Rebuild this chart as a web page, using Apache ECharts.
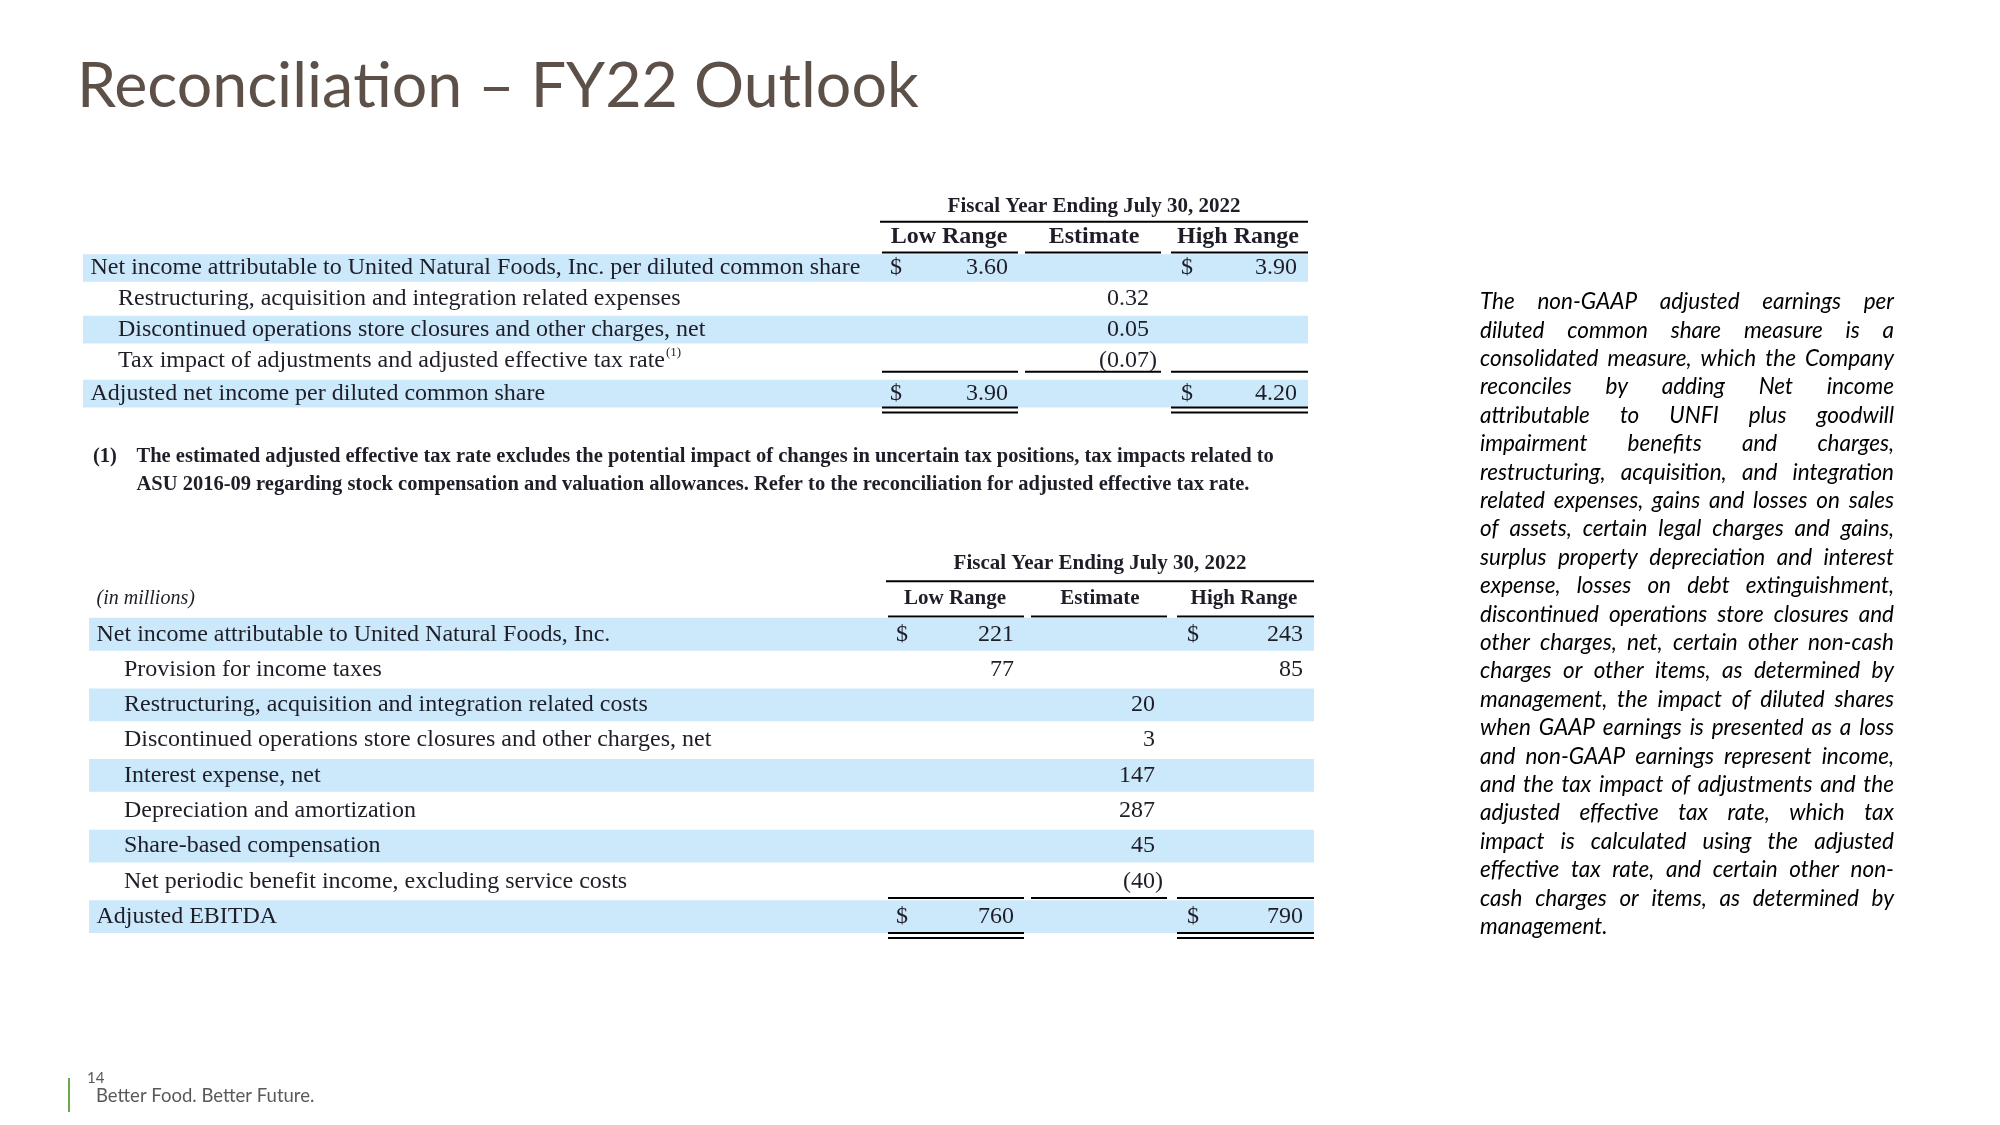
<!DOCTYPE html>
<html>
<head>
<meta charset="utf-8">
<title>Reconciliation – FY22 Outlook</title>
<script src="https://cdn.jsdelivr.net/npm/echarts@6/dist/echarts.min.js"></script>
<style>html,body{margin:0;padding:0;background:#fff;}</style>
</head>
<body>
<div id="main" style="width:2000px;height:1125px;"></div>
<script>
// headings shared by both tables
const periodHead = 'Fiscal Year Ending July 30, 2022';
const colHeads = ['Low Range', 'Estimate', 'High Range'];

// table 1: per diluted common share
const epsLabels = [
  'Net income attributable to United Natural Foods, Inc. per diluted common share',
  'Restructuring, acquisition and integration related expenses',
  'Discontinued operations store closures and other charges, net',
  'Tax impact of adjustments and adjusted effective tax rate',
  'Adjusted net income per diluted common share'
];
const epsIndent = [0, 1, 1, 1, 0];
const epsNote = [0, 0, 0, 1, 0];
const epsDollar = [1, 0, 0, 0, 1];
const epsLow = [3.60, null, null, null, 3.90];
const epsEstimate = [null, 0.32, 0.05, -0.07, null];
const epsHigh = [3.90, null, null, null, 4.20];

// table 2: adjusted EBITDA (in millions)
const ebitdaLabels = [
  'Net income attributable to United Natural Foods, Inc.',
  'Provision for income taxes',
  'Restructuring, acquisition and integration related costs',
  'Discontinued operations store closures and other charges, net',
  'Interest expense, net',
  'Depreciation and amortization',
  'Share-based compensation',
  'Net periodic benefit income, excluding service costs',
  'Adjusted EBITDA'
];
const ebitdaIndent = [0, 1, 1, 1, 1, 1, 1, 1, 0];
const ebitdaDollar = [1, 0, 0, 0, 0, 0, 0, 0, 1];
const ebitdaLow = [221, 77, null, null, null, null, null, null, 760];
const ebitdaEstimate = [null, null, 20, 3, 147, 287, 45, -40, null];
const ebitdaHigh = [243, 85, null, null, null, null, null, null, 790];

const footnote = [
  'The estimated adjusted effective tax rate excludes the potential impact of changes in uncertain tax positions, tax impacts related to',
  'ASU 2016-09 regarding stock compensation and valuation allowances. Refer to the reconciliation for adjusted effective tax rate.'
];

const sideText = [
  'The non-GAAP adjusted earnings per',
  'diluted common share measure is a',
  'consolidated measure, which the Company',
  'reconciles by adding Net income',
  'attributable to UNFI plus goodwill',
  'impairment benefits and charges,',
  'restructuring, acquisition, and integration',
  'related expenses, gains and losses on sales',
  'of assets, certain legal charges and gains,',
  'surplus property depreciation and interest',
  'expense, losses on debt extinguishment,',
  'discontinued operations store closures and',
  'other charges, net, certain other non-cash',
  'charges or other items, as determined by',
  'management, the impact of diluted shares',
  'when GAAP earnings is presented as a loss',
  'and non-GAAP earnings represent income,',
  'and the tax impact of adjustments and the',
  'adjusted effective tax rate, which tax',
  'impact is calculated using the adjusted',
  'effective tax rate, and certain other non-',
  'cash charges or items, as determined by',
  'management.'
];

const SERIF = '"Liberation Serif", "Times New Roman", serif';
const SANS = 'Lato, "Open Sans", sans-serif';
const INK = '#1e1e28';
const BAND = '#cce9fb';

const measureCtx = document.createElement('canvas').getContext('2d');
function textW(str, font) {
  measureCtx.font = font;
  return measureCtx.measureText(str).width;
}

// column positions inside a table, table is 1225 units wide
const COL = {
  labelX: 7.5, indentX: 35,
  dollarLo: 807, lo: 925, est: 1066, dollarHi: 1098, hi: 1214,
  headLo: 866, headEst: 1011, headHi: 1155,
  lineAll: [797, 1225], lineLo: [799, 935], lineEst: [942, 1078], lineHi: [1088, 1225]
};

function fmt(v, dec) {
  if (v == null) return '';
  return v < 0 ? '(' + Math.abs(v).toFixed(dec) + ')' : v.toFixed(dec);
}

function buildRows(labels, indent, dollar, low, est, high, note) {
  const rows = [{ kind: 'period' }, { kind: 'heads' }];
  labels.forEach((l, k) => rows.push({
    kind: 'data', stripe: k % 2 === 0, total: k === labels.length - 1,
    label: l, indent: indent[k], dollar: dollar[k], note: note ? note[k] : 0,
    low: low[k], est: est[k], high: high[k]
  }));
  return rows;
}

const epsRows = buildRows(epsLabels, epsIndent, epsDollar, epsLow, epsEstimate, epsHigh, epsNote);
const ebitdaRows = buildRows(ebitdaLabels, ebitdaIndent, ebitdaDollar, ebitdaLow, ebitdaEstimate, ebitdaHigh, null);

function makeRender(rows, cfg) {
  return function (params, api) {
    const i = api.value(1);
    const row = rows[i];
    const step = api.size([0, 1])[1];
    const yc = api.coord([0, i])[1];
    const X = v => api.coord([v, i])[0];
    const kids = [];
    const bodyFont = '24px ' + SERIF;
    const line = (a, b, y) => kids.push({
      type: 'line', shape: { x1: X(a), y1: y, x2: X(b), y2: y },
      style: { stroke: '#000', lineWidth: 2 }
    });
    const txt = (s, x, align, font, y) => kids.push({
      type: 'text',
      style: { text: s, x: x, y: y == null ? yc : y, align: align, verticalAlign: 'middle', font: font, fill: INK }
    });

    if (row.kind === 'period') {
      txt(periodHead, X(COL.headEst), 'center', 'bold 21px ' + SERIF);
      line(COL.lineAll[0], COL.lineAll[1], yc + step / 2);
    } else if (row.kind === 'heads') {
      const hf = 'bold ' + cfg.headSize + 'px ' + SERIF;
      txt(colHeads[0], X(COL.headLo), 'center', hf);
      txt(colHeads[1], X(COL.headEst), 'center', hf);
      txt(colHeads[2], X(COL.headHi), 'center', hf);
      if (cfg.unitNote) txt(cfg.unitNote, X(COL.labelX), 'left', 'italic 20px ' + SERIF);
      line(COL.lineLo[0], COL.lineLo[1], yc + step / 2);
      line(COL.lineEst[0], COL.lineEst[1], yc + step / 2);
      line(COL.lineHi[0], COL.lineHi[1], yc + step / 2);
    } else {
      const bh = step * cfg.band;
      const ym = yc + (row.total ? cfg.totalShift : 0);
      if (row.stripe) {
        kids.push({
          type: 'rect',
          shape: { x: X(0), y: ym - bh / 2, width: X(1225) - X(0), height: bh },
          style: { fill: BAND }
        });
      }
      const lx = X(row.indent ? COL.indentX : COL.labelX);
      txt(row.label, lx, 'left', bodyFont, ym);
      if (row.note) {
        txt('(1)', lx + textW(row.label, bodyFont) + 1, 'left', '13px ' + SERIF, ym - 8);
      }
      const paren = textW(')', bodyFont);
      const val = (v, x) => {
        if (v == null) return;
        txt(fmt(v, cfg.dec), x + (v < 0 ? paren : 0), 'right', bodyFont, ym);
      };
      if (row.dollar) {
        txt('$', X(COL.dollarLo), 'left', bodyFont, ym);
        txt('$', X(COL.dollarHi), 'left', bodyFont, ym);
      }
      val(row.low, X(COL.lo));
      val(row.est, X(COL.est));
      val(row.high, X(COL.hi));
      if (row.total) {
        const yTop = yc - step / 2 - cfg.totalLift;
        line(COL.lineLo[0], COL.lineLo[1], yTop);
        line(COL.lineEst[0], COL.lineEst[1], yTop);
        line(COL.lineHi[0], COL.lineHi[1], yTop);
        const yb = ym + bh / 2;
        line(COL.lineLo[0], COL.lineLo[1], yb);
        line(COL.lineLo[0], COL.lineLo[1], yb + 5);
        line(COL.lineHi[0], COL.lineHi[1], yb);
        line(COL.lineHi[0], COL.lineHi[1], yb + 5);
      }
    }
    return { type: 'group', children: kids };
  };
}

// side paragraph, justified line by line; over-long lines are squeezed
const sideLeft = 1480, sideWidth = 414, sideTop = 302, sideStep = 28.4;
const sideFont = 'italic 22.5px ' + SANS;
const spaceW = textW(' ', sideFont);
const sideGraphics = [];
sideText.forEach((l, k) => {
  const y = sideTop + k * sideStep;
  const words = l.split(' ');
  const used = words.reduce((s, w) => s + textW(w, sideFont), 0);
  const natural = used + spaceW * (words.length - 1);
  const last = k === sideText.length - 1;
  let sx = 1, gap = spaceW;
  if (natural > sideWidth) {
    sx = sideWidth / natural;
    gap = spaceW * sx;
  } else if (!last && words.length > 1) {
    gap = (sideWidth - used) / (words.length - 1);
  }
  let x = sideLeft;
  words.forEach(w => {
    sideGraphics.push({
      type: 'text', x: x, y: y, scaleX: sx,
      style: { text: w, font: sideFont, fill: '#000', verticalAlign: 'middle' }
    });
    x += textW(w, sideFont) * sx + gap;
  });
});

// title drawn as two rich tokens so the "ti" pair is not joined into a ligature
const titleParts = ['Reconcilia', 'tion – FY22 Outlook'];
const titleSize = 842 / (textW(titleParts[0], '100px ' + SANS) + textW(titleParts[1], '100px ' + SANS)) * 100;
const titleStyle = { fontFamily: SANS, fontWeight: 'normal', fontSize: titleSize, color: '#5d5049' };

const myChart = echarts.init(document.getElementById('main'), null, { renderer: 'canvas' });

const option = {
  backgroundColor: '#fff',
  animation: false,
  title: {
    text: '{t|' + titleParts[0] + '}{t|' + titleParts[1] + '}', left: 72, top: 50,
    textStyle: Object.assign({ rich: { t: titleStyle } }, titleStyle)
  },
  grid: [
    { left: 83, width: 1225, top: 191, height: 7 * 30.8 },
    { left: 89, width: 1225, top: 546, height: 11 * 35.3 }
  ],
  xAxis: [
    { type: 'value', gridIndex: 0, min: 0, max: 1225, show: false },
    { type: 'value', gridIndex: 1, min: 0, max: 1225, show: false }
  ],
  yAxis: [
    { type: 'category', gridIndex: 0, inverse: true, show: false, data: epsRows.map((r, i) => 'row' + i) },
    { type: 'category', gridIndex: 1, inverse: true, show: false, data: ebitdaRows.map((r, i) => 'row' + i) }
  ],
  series: [
    {
      type: 'custom', xAxisIndex: 0, yAxisIndex: 0, silent: true,
      renderItem: makeRender(epsRows, { headSize: 24, band: 0.9, dec: 2, totalLift: 4, totalShift: 2.5 }),
      data: epsRows.map((r, i) => [0, i])
    },
    {
      type: 'custom', xAxisIndex: 1, yAxisIndex: 1, silent: true,
      renderItem: makeRender(ebitdaRows, { headSize: 21, band: 0.93, dec: 0, totalLift: 1, totalShift: 0, unitNote: '(in millions)' }),
      data: ebitdaRows.map((r, i) => [0, i])
    }
  ],
  graphic: [
    { type: 'text', x: 93, y: 457, style: { text: '(1)', font: 'bold 20.5px ' + SERIF, fill: INK, verticalAlign: 'middle' } },
    { type: 'text', x: 136.5, y: 457, style: { text: footnote[0], font: 'bold 20.5px ' + SERIF, fill: INK, verticalAlign: 'middle' } },
    { type: 'text', x: 136.5, y: 485, style: { text: footnote[1], font: 'bold 20.5px ' + SERIF, fill: INK, verticalAlign: 'middle' } },
    { type: 'line', shape: { x1: 69, y1: 1078, x2: 69, y2: 1112 }, style: { stroke: '#6aa84f', lineWidth: 2 } },
    { type: 'text', x: 87, y: 1078, style: { text: '14', font: '15px ' + SANS, fill: '#595959', verticalAlign: 'middle' } },
    { type: 'text', x: 96, y: 1096, style: { text: 'Better Food. Better Future.', font: '18.5px ' + SANS, fill: '#595959', verticalAlign: 'middle' } }
  ].concat(sideGraphics)
};

myChart.setOption(option);
</script>
</body>
</html>
